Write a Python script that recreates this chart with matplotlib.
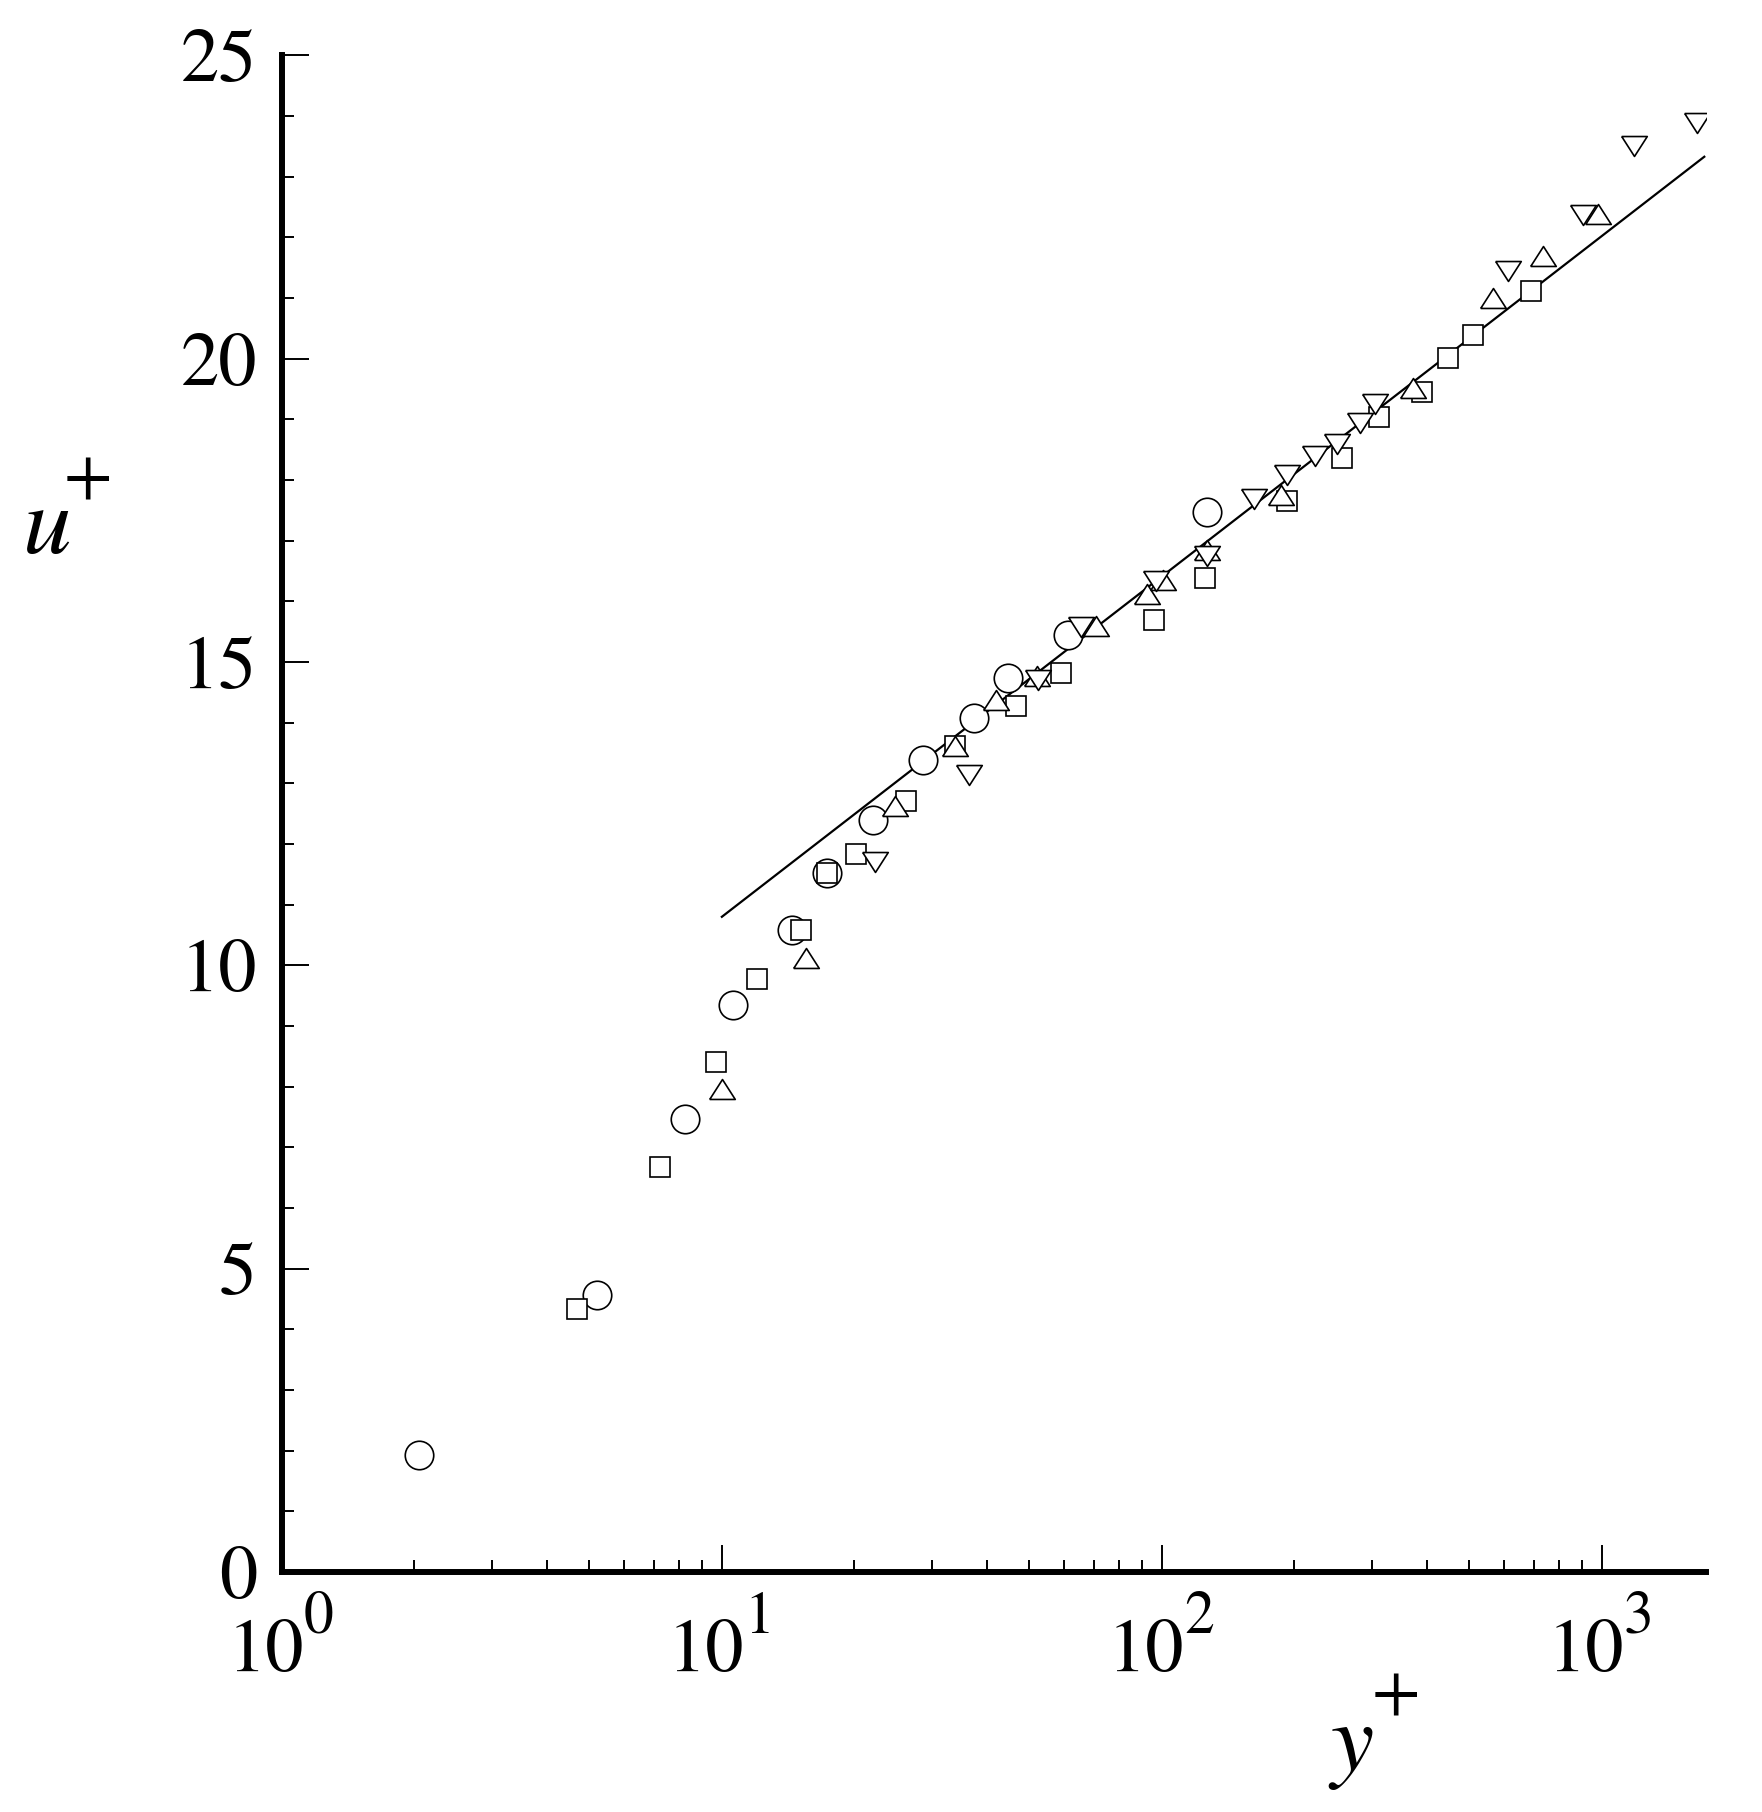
import numpy as np
import matplotlib
matplotlib.use("Agg")
import matplotlib.pyplot as plt
from matplotlib.ticker import FixedLocator, LogLocator, NullFormatter
from matplotlib.transforms import offset_copy

plt.rcParams['font.family'] = ['STIXGeneral', 'DejaVu Serif']
plt.rcParams['mathtext.fontset'] = 'stix'

# data
circ_x = [2.05, 5.2, 8.24, 10.6, 14.4, 17.3, 22.1, 28.7, 37.5, 44.7, 61.2, 126.7]
circ_y = [1.92, 4.57, 7.47, 9.34, 10.58, 11.53, 12.39, 13.38, 14.08, 14.73, 15.45, 17.47]

sq_x = [4.69, 7.25, 9.70, 12.0, 15.1, 17.3, 20.2, 26.2, 33.8, 46.6, 59.0, 95.9, 125.1,
        192.4, 257.3, 312.4, 390.9, 446.7, 510.6, 690.9]
sq_y = [4.34, 6.67, 8.40, 9.78, 10.59, 11.53, 11.83, 12.71, 13.62, 14.27, 14.82, 15.70, 16.39,
        17.66, 18.37, 19.04, 19.45, 20.01, 20.39, 21.11]

tu_x = [10.0, 15.5, 24.8, 33.8, 42.0, 52.0, 70.8, 92.4, 100.6, 126.7, 186.6, 372.5, 565.7, 734, 982]
tu_y = [7.96, 10.12, 12.63, 13.62, 14.37, 14.77, 15.59, 16.12, 16.35, 16.84, 17.76, 19.51, 21.0, 21.70, 22.39]

td_x = [22.3, 36.4, 52.3, 65.4, 97.0, 126.7, 162.4, 192.4, 222.6, 249.7, 281.8, 305, 612, 908, 1185, 1644]
td_y = [11.70, 13.13, 14.71, 15.57, 16.33, 16.75, 17.68, 18.08, 18.39, 18.60, 18.94, 19.26, 21.44, 22.37, 23.51, 23.89]

# log-law line end points
law_x = [10.0, 1710.0]
law_y = [10.80, 23.33]

x_major = [1, 10, 100, 1000]
x_exps = ['0', '1', '2', '3']
y_major = [0, 5, 10, 15, 20, 25]

tri_up = [(-1, -0.78), (1, -0.78), (0, 0.78), (-1, -0.78)]
tri_dn = [(-1, 0.78), (1, 0.78), (0, -0.78), (-1, 0.78)]

W, H = 1762, 1812
fig = plt.figure(figsize=(W / 100, H / 100), dpi=100)
ax = fig.add_axes([0.16, 0.1325, 0.808, 0.8369])

ax.plot(law_x, law_y, color='k', linewidth=1.6, zorder=2)
mk = dict(linestyle='none', color='k', markerfacecolor='white', markeredgewidth=1.2)
ax.plot(circ_x, circ_y, marker='o', markersize=20.5, zorder=3, **mk)
ax.plot(sq_x, sq_y, marker='s', markersize=14.5, zorder=4, **mk)
ax.plot(tu_x, tu_y, marker=tri_up, markersize=18.4, zorder=5, **mk)
ax.plot(td_x, td_y, marker=tri_dn, markersize=18.4, zorder=6, **mk)

ax.set_xscale('log')
ax.set_xlim(1, 1722)
ax.set_ylim(0, 25)

ax.spines['top'].set_visible(False)
ax.spines['right'].set_visible(False)
ax.spines['left'].set_linewidth(4.3)
ax.spines['bottom'].set_linewidth(4.3)

ax.xaxis.set_major_locator(FixedLocator(x_major))
ax.xaxis.set_minor_locator(LogLocator(base=10, subs=np.arange(2, 10), numticks=20))
ax.xaxis.set_minor_formatter(NullFormatter())
ax.yaxis.set_major_locator(FixedLocator(y_major))
ax.yaxis.set_minor_locator(FixedLocator(np.arange(0, 26, 1)))

ax.tick_params(which='both', direction='in', width=1.4, color='k')
ax.tick_params(which='major', length=19.5, labelsize=55)
ax.tick_params(which='minor', length=8.6)
ax.tick_params(axis='y', which='major', pad=18)
ax.tick_params(axis='x', which='major', labelbottom=False)

# x tick labels as 10 with a raised exponent
xt = ax.get_xaxis_transform()
for v, e in zip(x_major, x_exps):
    ax.text(v, 0, '10', fontsize=55, ha='right', va='baseline',
            transform=offset_copy(xt, fig=fig, x=22, y=-99, units='dots'), clip_on=False)
    ax.text(v, 0, e, fontsize=43, ha='left', va='baseline',
            transform=offset_copy(xt, fig=fig, x=22, y=-61, units='dots'), clip_on=False)

# axis titles
fig.text(23 / W, 1 - 553 / H, 'u', fontsize=70, fontstyle='italic', ha='left', va='baseline')
fig.text(88 / W, 1 - 497 / H, '+', fontsize=51, ha='center', va='baseline')
fig.text(1352 / W, 1 - 1770 / H, 'y', fontsize=70, fontstyle='italic', ha='center', va='baseline')
fig.text(1396 / W, 1 - 1714 / H, '+', fontsize=51, ha='center', va='baseline')

fig.savefig('out.png', dpi=100)
